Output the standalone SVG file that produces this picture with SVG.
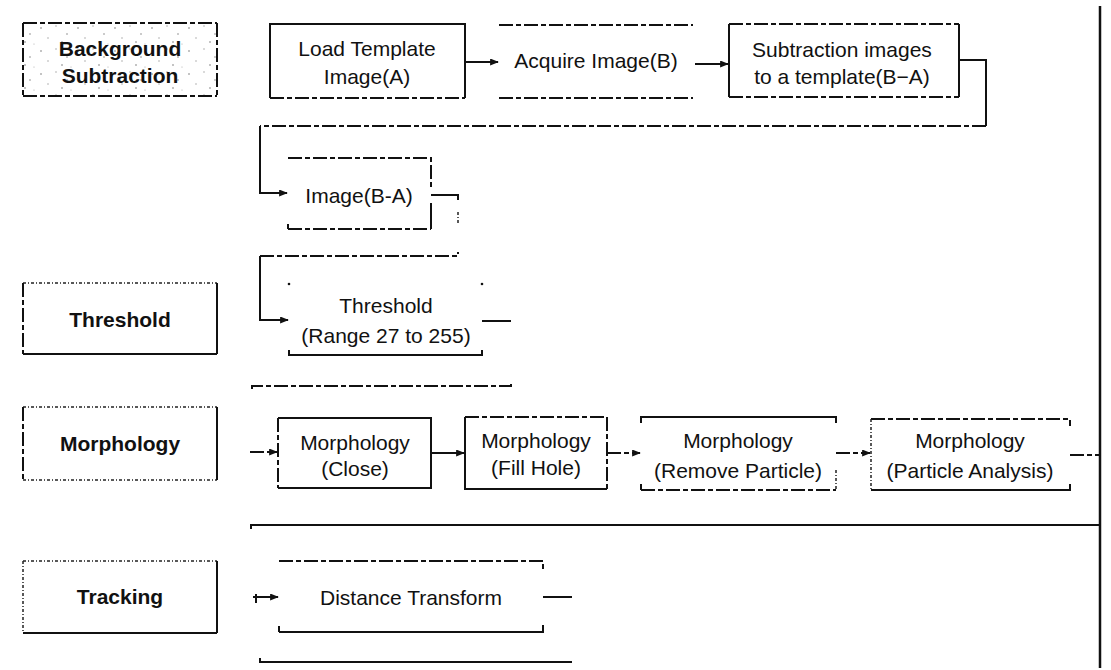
<svg xmlns="http://www.w3.org/2000/svg" width="1111" height="670" viewBox="0 0 1111 670">
<defs>
<pattern id="speck" width="37" height="23" patternUnits="userSpaceOnUse">
<circle cx="4" cy="5" r="0.8" fill="#777"/><circle cx="19" cy="3" r="0.7" fill="#999"/><circle cx="30" cy="11" r="0.8" fill="#888"/><circle cx="11" cy="15" r="0.7" fill="#999"/><circle cx="25" cy="19" r="0.8" fill="#777"/><circle cx="34" cy="21" r="0.6" fill="#aaa"/>
</pattern>
<marker id="ah" viewBox="0 0 10 8" refX="9" refY="4" markerWidth="9" markerHeight="7" markerUnits="userSpaceOnUse" orient="auto">
<path d="M0,0 L10,4 L0,8 z" fill="#111"/>
</marker>
</defs>
<style>
.s{fill:none;stroke:#111;stroke-width:2}
.d{fill:none;stroke:#111;stroke-width:2;stroke-dasharray:14 3 5 3}
.f{fill:none;stroke:#222;stroke-width:1.5;stroke-dasharray:3 2 1 2}
.l{font-family:'Liberation Sans',Arial,sans-serif;font-size:21px;font-weight:bold;fill:#111;text-anchor:middle}
.t{font-family:'Liberation Sans',Arial,sans-serif;font-size:21px;fill:#111;text-anchor:middle}
</style>
<rect width="1111" height="670" fill="#fff"/>

<g id="lbl-background">
<rect x="23" y="23" width="194" height="73" fill="url(#speck)"/>
<path class="d" d="M23,23 H217"/><path class="d" d="M23,96 H217"/><path class="d" d="M23,23 V96"/><path class="d" d="M217,23 V96"/>
<text class="l" x="120" y="56">Background</text>
<text class="l" x="120" y="83">Subtraction</text>
</g>
<g id="lbl-threshold">
<path class="f" d="M23,283 H217"/><path class="s" d="M23,354 H217"/><path class="d" d="M23,283 V354"/><path class="s" d="M217,283 V354"/>
<text class="l" x="120" y="327">Threshold</text>
</g>
<g id="lbl-morphology">
<path class="f" d="M23,407 H217"/><path class="f" d="M23,480 H217"/><path class="d" d="M23,407 V480"/><path class="s" d="M217,407 V480"/>
<text class="l" x="120" y="451">Morphology</text>
</g>
<g id="lbl-tracking">
<path class="f" d="M23,561 H217"/><path class="s" d="M23,633 H217"/><path class="f" d="M23,561 V633"/><path class="s" d="M217,561 V633"/>
<text class="l" x="120" y="604">Tracking</text>
</g>

<g id="n-load">
<path class="s" d="M270,98 V24 H465 V98"/><path class="d" d="M270,98 H465"/>
<text class="t" x="367" y="56">Load Template</text>
<text class="t" x="367" y="84">Image(A)</text>
</g>
<g id="n-acquire">
<path class="d" d="M499,25 H693"/><path class="d" d="M499,98 H693"/>
<text class="t" x="596" y="68">Acquire Image(B)</text>
</g>
<g id="n-subtract">
<path class="d" d="M729,24 H959"/><path class="s" d="M729,24 V97"/><path class="s" d="M959,24 V97"/><path class="d" d="M729,97 H959"/>
<text class="t" x="842" y="57">Subtraction images</text>
<text class="t" x="842" y="84">to a template(B−A)</text>
</g>
<g id="n-image">
<path class="d" d="M288,158 H431 V190"/><path class="s" d="M431,203 V229"/><path class="d" d="M288,229 H431"/><path class="s" d="M288,224 V229"/>
<text class="t" x="359" y="203">Image(B-A)</text>
</g>
<g id="n-threshold">
<circle cx="289" cy="284" r="1.3" fill="#111"/><circle cx="482" cy="284" r="1.3" fill="#111"/>
<path class="s" d="M289,350 V355 H482 V350"/>
<text class="t" x="386" y="313">Threshold</text>
<text class="t" x="386" y="343">(Range 27 to 255)</text>
</g>
<g id="n-close">
<path class="s" d="M278,418 H431 V488 H278"/><path class="d" d="M278,418 V488"/>
<text class="t" x="355" y="450">Morphology</text>
<text class="t" x="355" y="476">(Close)</text>
</g>
<g id="n-fill">
<path class="d" d="M465,417 H607"/><path class="s" d="M465,417 V489 H607"/><path class="d" d="M607,417 V489"/>
<text class="t" x="536" y="448">Morphology</text>
<text class="t" x="536" y="475">(Fill Hole)</text>
</g>
<g id="n-remove">
<path class="s" d="M641,423 V417 H836 V423"/><path class="d" d="M641,490 H836"/><path class="s" d="M641,484 V490"/><path class="f" d="M836,470 V490"/>
<text class="t" x="738" y="448">Morphology</text>
<text class="t" x="738" y="478">(Remove Particle)</text>
</g>
<g id="n-analysis">
<path class="d" d="M871,419 H1070 V426"/><path class="f" d="M871,419 V490"/><path class="s" d="M871,490 H1070 V484"/>
<text class="t" x="970" y="448">Morphology</text>
<text class="t" x="970" y="478">(Particle Analysis)</text>
</g>
<g id="n-distance">
<path class="d" d="M279,561 H543 V570"/><path class="s" d="M279,632 H543 V625"/><path class="s" d="M279,626 V632"/>
<text class="t" x="411" y="605">Distance Transform</text>
</g>

<g id="connectors">
<path class="s" d="M465,62 H498" marker-end="url(#ah)"/>
<path class="s" d="M695,64 H728" marker-end="url(#ah)"/>
<path class="s" d="M959,60 H986 V126"/>
<path class="d" d="M986,126 H260"/>
<path class="s" d="M260,126 V193 H287" marker-end="url(#ah)"/>
<path class="s" d="M431,195 H458 V200"/>
<path class="f" d="M458,212 V224"/>
<path class="d" d="M260,256 H458 V252"/>
<path class="s" d="M260,256 V320 H288" marker-end="url(#ah)"/>
<path class="s" d="M482,321 H511"/>
<path class="d" d="M252,389 V386 H511 V383"/>
<path class="d" d="M250,452 H277" marker-end="url(#ah)"/>
<path class="s" d="M431,453 H464" marker-end="url(#ah)"/>
<path class="d" d="M607,453 H640" marker-end="url(#ah)"/>
<path class="d" d="M836,453 H870" marker-end="url(#ah)"/>
<path class="d" d="M1070,455 H1099"/>
<path d="M1100,6 V668" fill="none" stroke="#111" stroke-width="2.5"/>
<path class="s" d="M251,529 V525 H1100"/>
<path class="s" d="M256,594 V603"/>
<path class="s" d="M253,597 H278" marker-end="url(#ah)"/>
<path class="s" d="M543,597 H572"/>
<path class="s" d="M260,658 V662 H572"/>
</g>
</svg>
